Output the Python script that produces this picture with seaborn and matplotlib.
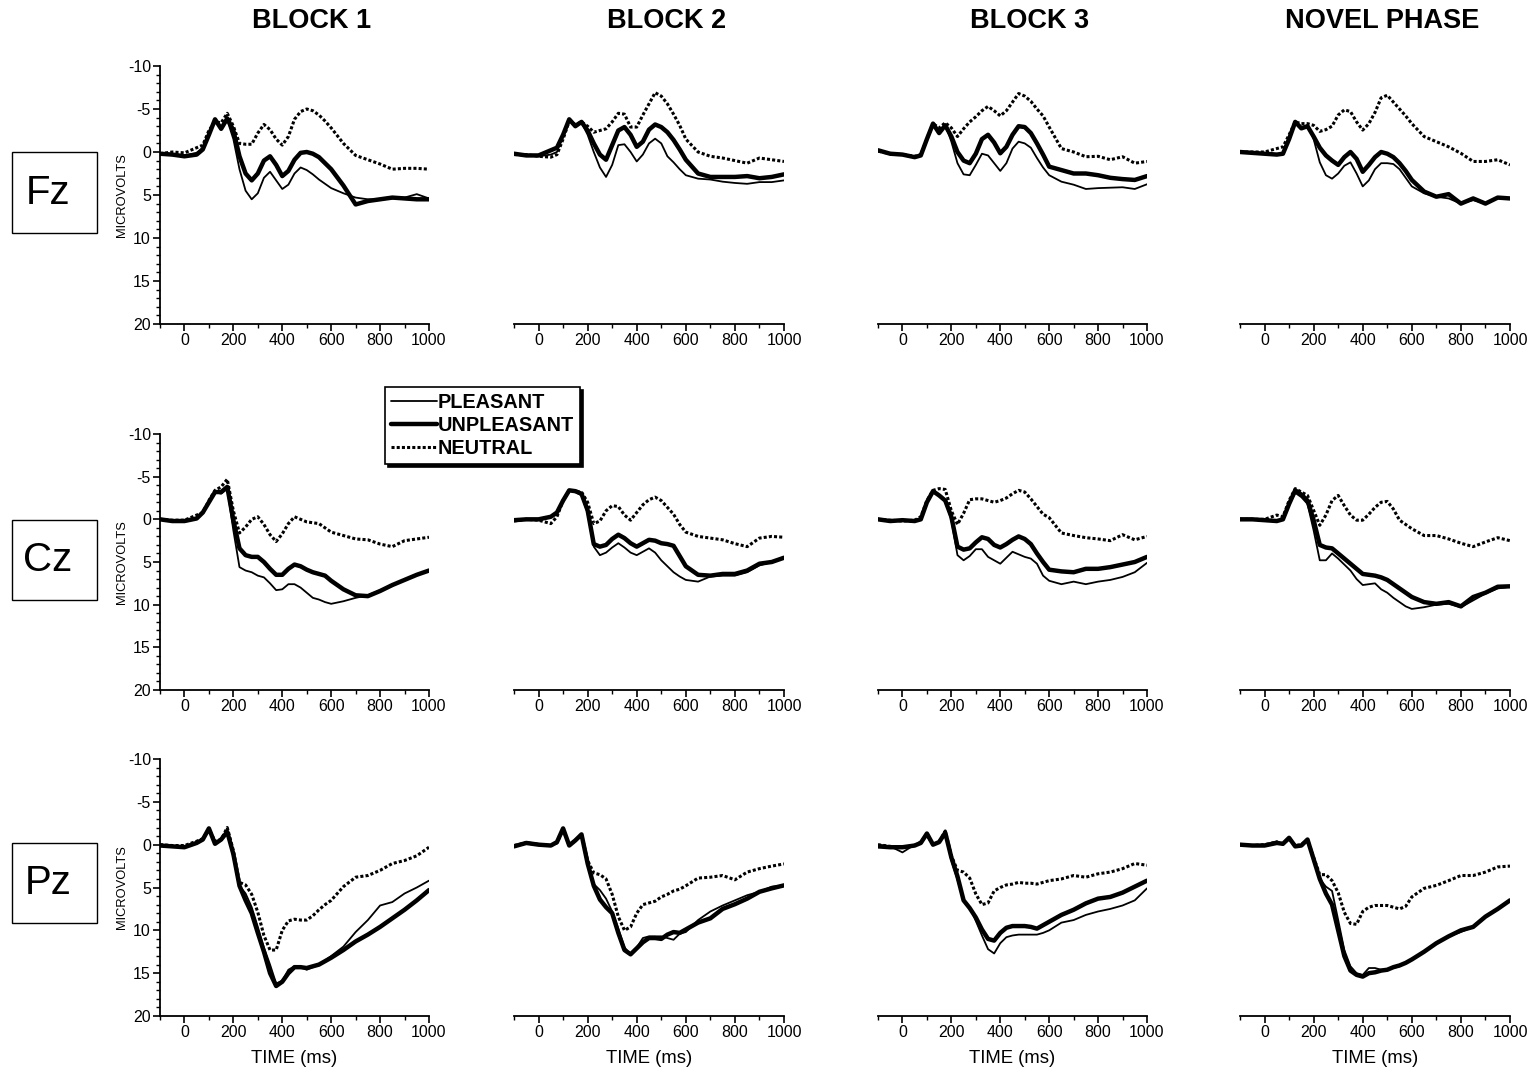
import matplotlib
matplotlib.use("Agg")
import matplotlib.pyplot as plt
from matplotlib.patches import Rectangle
from matplotlib.ticker import MultipleLocator
import seaborn as sns

sns.set_style("ticks")
plt.rcParams['font.family'] = ['Liberation Sans', 'DejaVu Sans']
plt.rcParams['axes.unicode_minus'] = False
plt.rcParams['text.color'] = 'black'
plt.rcParams['axes.labelcolor'] = 'black'
plt.rcParams['xtick.color'] = 'black'
plt.rcParams['ytick.color'] = 'black'
plt.rcParams['axes.edgecolor'] = 'black'

# time axis (ms) shared by all waveforms
time_ms = [-100, -50, 0, 50, 75, 100, 125, 150, 175, 200, 225, 250, 275, 300, 325, 350, 375,
           400, 425, 450, 475, 500, 525, 550, 575, 600, 650, 700, 750, 800, 850, 900, 950, 1000]

blocks = ["BLOCK 1", "BLOCK 2", "BLOCK 3", "NOVEL PHASE"]
sites = ["Fz", "Cz", "Pz"]
conditions = ["PLEASANT", "UNPLEASANT", "NEUTRAL"]

# ---- Fz ----
fz_b1_pleasant = [0.3, 0.3, 0.4, 0.1, -0.5, -2.3, -3.7, -2.6, -3.7, -1.5, 2.0, 4.5, 5.5, 4.8, 3.0, 2.3, 3.3,
                  4.3, 3.8, 2.5, 1.8, 2.1, 2.6, 3.2, 3.7, 4.2, 4.8, 5.3, 5.5, 5.5, 5.4, 5.3, 4.9, 5.4]
fz_b1_unpleasant = [0.2, 0.3, 0.5, 0.3, -0.3, -2.0, -3.8, -2.7, -3.9, -2.5, 0.5, 2.5, 3.3, 2.5, 1.0, 0.5, 1.5,
                    2.8, 2.2, 0.9, 0.1, 0.0, 0.2, 0.6, 1.3, 2.0, 3.9, 6.1, 5.7, 5.5, 5.3, 5.4, 5.5, 5.5]
fz_b1_neutral = [0.2, 0.0, 0.1, -0.5, -0.8, -2.5, -3.5, -3.4, -4.5, -3.0, -1.0, -0.9, -0.9, -2.2, -3.2, -2.6, -1.5,
                 -0.8, -1.8, -3.8, -4.7, -5.0, -4.8, -4.3, -3.6, -2.8, -1.0, 0.4, 0.9, 1.4, 2.0, 1.9, 1.9, 2.0]

fz_b2_pleasant = [0.2, 0.3, 0.5, 0.3, 0.0, -2.0, -3.8, -3.0, -3.4, -2.0, 0.0, 1.8, 2.9, 1.5, -0.8, -0.9, 0.0,
                  1.1, 0.3, -1.0, -1.55, -1.0, 0.5, 1.2, 2.0, 2.7, 3.1, 3.2, 3.45, 3.6, 3.7, 3.5, 3.5, 3.3]
fz_b2_unpleasant = [0.2, 0.4, 0.4, -0.2, -0.5, -2.0, -3.8, -3.0, -3.5, -2.5, -1.0, 0.3, 0.9, -0.8, -2.5, -2.9, -2.0,
                    -0.6, -1.2, -2.6, -3.2, -2.9, -2.3, -1.4, -0.3, 0.9, 2.5, 2.9, 2.9, 2.9, 2.8, 3.05, 2.9, 2.6]
fz_b2_neutral = [0.3, 0.3, 0.5, 0.6, 0.3, -1.5, -3.6, -3.2, -3.5, -3.0, -2.3, -2.5, -2.7, -3.5, -4.5, -4.4, -2.9,
                 -2.9, -4.3, -5.6, -6.9, -6.5, -5.6, -4.4, -3.1, -1.5, 0.0, 0.5, 0.7, 1.0, 1.3, 0.7, 0.9, 1.1]

fz_b3_pleasant = [-0.2, 0.15, 0.35, 0.6, 0.4, -1.5, -3.3, -2.4, -3.2, -1.2, 1.3, 2.6, 2.7, 1.5, 0.2, 0.4, 1.3,
                  2.2, 1.3, -0.4, -1.2, -1.0, -0.5, 0.7, 1.8, 2.7, 3.45, 3.8, 4.3, 4.2, 4.15, 4.1, 4.3, 3.75]
fz_b3_unpleasant = [-0.2, 0.2, 0.3, 0.6, 0.4, -1.5, -3.3, -2.2, -3.1, -1.8, 0.0, 1.0, 1.3, 0.2, -1.5, -2.0, -1.1,
                    0.15, -0.6, -2.0, -3.0, -2.9, -2.2, -1.0, 0.3, 1.7, 2.1, 2.5, 2.5, 2.7, 3.0, 3.15, 3.25, 2.8]
fz_b3_neutral = [-0.1, 0.2, 0.3, 0.5, 0.3, -1.5, -3.3, -2.8, -3.4, -2.8, -1.8, -2.7, -3.5, -4.1, -4.8, -5.3, -4.8,
                 -4.2, -4.8, -5.8, -6.8, -6.5, -5.9, -5.0, -4.2, -2.9, -0.4, 0.0, 0.55, 0.5, 0.9, 0.55, 1.3, 1.1]

fz_nov_pleasant = [0.0, 0.1, 0.2, 0.3, 0.1, -1.8, -3.5, -2.9, -3.1, -1.5, 1.2, 2.7, 3.1, 2.5, 1.6, 1.2, 2.5,
                   4.0, 3.3, 2.0, 1.3, 1.3, 1.4, 2.0, 3.0, 4.0, 4.8, 5.2, 5.4, 6.0, 5.6, 6.0, 5.4, 5.4]
fz_nov_unpleasant = [0.0, 0.1, 0.2, 0.3, 0.2, -1.5, -3.5, -2.75, -3.0, -1.8, -0.5, 0.4, 1.0, 1.5, 0.6, 0.0, 0.8,
                     2.3, 1.5, 0.6, 0.0, 0.2, 0.6, 1.3, 2.2, 3.25, 4.6, 5.2, 4.9, 6.0, 5.4, 6.0, 5.3, 5.4]
fz_nov_neutral = [0.0, 0.0, 0.0, -0.4, -0.6, -2.0, -3.5, -3.3, -3.3, -3.1, -2.4, -2.6, -3.0, -4.3, -4.9, -4.7, -3.5,
                  -2.55, -3.3, -4.6, -6.3, -6.6, -5.8, -5.0, -4.2, -3.3, -1.8, -1.2, -0.6, 0.15, 1.1, 1.1, 0.9, 1.5]

# ---- Cz ----
cz_b1_pleasant = [0.0, 0.2, 0.2, -0.2, -0.8, -2.0, -3.2, -3.0, -3.6, 1.3, 5.6, 6.0, 6.2, 6.6, 6.8, 7.5, 8.3,
                  8.2, 7.6, 7.6, 8.0, 8.6, 9.2, 9.4, 9.7, 9.9, 9.6, 9.2, 8.9, 8.3, 7.7, 7.1, 6.5, 6.0]
cz_b1_unpleasant = [0.0, 0.2, 0.2, -0.1, -0.8, -2.0, -3.2, -3.2, -3.8, 0.1, 3.4, 4.2, 4.4, 4.4, 5.0, 5.8, 6.5,
                    6.5, 5.8, 5.3, 5.5, 5.9, 6.2, 6.4, 6.6, 7.2, 8.2, 8.9, 9.0, 8.4, 7.7, 7.1, 6.5, 6.0]
cz_b1_neutral = [0.0, 0.1, 0.1, -0.5, -0.8, -2.2, -3.4, -3.8, -4.7, -1.0, 1.6, 0.9, 0.0, -0.3, 0.6, 1.8, 2.6,
                 1.7, 0.5, -0.3, 0.0, 0.3, 0.4, 0.5, 1.0, 1.5, 1.9, 2.3, 2.4, 2.9, 3.2, 2.5, 2.3, 2.1]

cz_b2_pleasant = [0.1, 0.0, 0.0, -0.3, -0.8, -2.2, -3.4, -3.2, -2.8, -0.7, 3.2, 4.2, 3.9, 3.3, 2.8, 3.3, 3.9,
                  4.2, 3.8, 3.4, 3.9, 4.8, 5.5, 6.2, 6.7, 7.1, 7.3, 6.7, 6.6, 6.6, 6.2, 5.4, 5.0, 4.4]
cz_b2_unpleasant = [0.1, 0.0, 0.0, -0.3, -0.8, -2.2, -3.4, -3.3, -3.0, -1.05, 2.9, 3.2, 3.0, 2.3, 1.8, 2.2, 2.8,
                    3.2, 2.8, 2.4, 2.5, 2.8, 2.9, 3.1, 4.3, 5.5, 6.5, 6.6, 6.4, 6.4, 6.0, 5.2, 5.0, 4.5]
cz_b2_neutral = [0.2, 0.0, 0.1, 0.5, -0.3, -2.2, -3.4, -3.3, -3.2, -2.0, 0.5, 0.2, -1.0, -1.6, -1.5, -0.5, 0.1,
                 -0.8, -1.7, -2.3, -2.6, -2.2, -1.4, -0.6, 0.6, 1.5, 2.0, 2.2, 2.4, 2.85, 3.2, 2.2, 2.0, 2.1]

cz_b3_pleasant = [0.0, 0.2, 0.1, 0.2, 0.0, -2.0, -3.2, -2.8, -2.2, 0.1, 4.2, 4.8, 4.3, 3.5, 3.5, 4.4, 4.8,
                  5.2, 4.5, 3.8, 4.1, 4.4, 4.6, 5.2, 6.6, 7.2, 7.6, 7.3, 7.6, 7.3, 7.1, 6.75, 6.2, 5.1]
cz_b3_unpleasant = [0.0, 0.2, 0.1, 0.2, 0.0, -2.0, -3.3, -2.8, -2.2, -0.3, 3.2, 3.55, 3.4, 2.7, 2.1, 2.3, 3.0,
                    3.3, 2.9, 2.4, 2.0, 2.3, 2.9, 4.0, 5.0, 5.9, 6.1, 6.2, 5.8, 5.8, 5.6, 5.3, 5.0, 4.4]
cz_b3_neutral = [0.0, 0.1, 0.2, 0.1, -0.3, -2.2, -3.4, -3.6, -3.5, -1.0, 0.6, -0.7, -2.3, -2.4, -2.4, -2.2, -2.0,
                 -2.2, -2.5, -3.0, -3.4, -3.2, -2.4, -1.5, -0.6, -0.2, 1.6, 1.9, 2.15, 2.3, 2.5, 1.8, 2.4, 2.0]

cz_nov_pleasant = [0.0, 0.0, 0.1, 0.2, 0.0, -1.8, -3.1, -2.6, -1.8, 1.3, 4.8, 4.8, 4.0, 4.6, 5.3, 6.0, 7.0,
                   7.7, 7.6, 7.5, 8.2, 8.6, 9.2, 9.7, 10.2, 10.5, 10.3, 10.0, 9.9, 10.3, 9.5, 8.7, 8.1, 7.9]
cz_nov_unpleasant = [0.0, 0.0, 0.1, 0.2, 0.0, -1.8, -3.4, -2.9, -2.2, 0.1, 3.0, 3.3, 3.4, 4.0, 4.6, 5.2, 5.8,
                     6.4, 6.5, 6.6, 6.8, 7.1, 7.6, 8.1, 8.6, 9.1, 9.7, 9.9, 9.7, 10.2, 9.1, 8.6, 7.9, 7.85]
cz_nov_neutral = [0.0, 0.0, 0.0, -0.5, -0.3, -2.2, -3.6, -3.2, -2.8, -1.05, 0.7, -0.5, -2.2, -2.8, -1.6, -0.5, 0.1,
                  0.1, -0.6, -1.4, -2.0, -2.1, -1.2, 0.1, 0.6, 1.1, 1.9, 1.9, 2.3, 2.8, 3.2, 2.65, 2.15, 2.5]

# ---- Pz ----
pz_b1_pleasant = [0.0, 0.2, 0.2, -0.3, -0.7, -1.8, -0.3, -0.5, -1.6, 1.5, 4.8, 5.7, 7.3, 9.6, 12.0, 14.0, 16.2,
                  15.9, 14.6, 14.2, 14.3, 14.6, 14.3, 14.0, 13.5, 13.0, 11.9, 10.2, 8.8, 7.1, 6.7, 5.7, 5.0, 4.2]
pz_b1_unpleasant = [0.1, 0.2, 0.3, -0.2, -0.6, -1.9, -0.1, -0.6, -1.5, 1.1, 4.8, 6.5, 8.0, 10.3, 12.5, 15.0, 16.5,
                    16.0, 15.0, 14.3, 14.3, 14.4, 14.2, 14.0, 13.6, 13.2, 12.3, 11.3, 10.5, 9.6, 8.6, 7.6, 6.5, 5.3]
pz_b1_neutral = [0.0, 0.1, 0.1, -0.4, -0.7, -1.8, -0.4, -0.6, -2.0, 0.7, 4.4, 4.7, 5.8, 7.9, 10.6, 12.3, 12.3,
                 10.0, 8.9, 8.7, 8.8, 8.8, 8.3, 7.6, 7.0, 6.5, 4.9, 3.8, 3.6, 3.0, 2.2, 1.85, 1.3, 0.3]

pz_b2_pleasant = [0.1, -0.3, -0.1, 0.1, -0.3, -1.8, 0.0, -0.6, -1.0, 1.85, 4.6, 5.3, 6.3, 7.8, 9.8, 12.0, 12.8,
                  12.0, 10.9, 10.7, 10.7, 10.7, 10.9, 11.1, 10.4, 10.2, 8.8, 7.8, 7.1, 6.5, 5.9, 5.5, 4.9, 4.75]
pz_b2_unpleasant = [0.2, -0.2, 0.0, 0.1, -0.3, -1.9, 0.1, -0.5, -1.2, 2.2, 4.8, 6.4, 7.3, 8.0, 10.3, 12.3, 12.8,
                    12.1, 11.4, 10.9, 10.9, 11.0, 10.5, 10.2, 10.3, 9.9, 9.1, 8.6, 7.5, 6.95, 6.3, 5.5, 5.1, 4.75]
pz_b2_neutral = [0.1, -0.2, 0.0, 0.1, -0.2, -1.8, 0.0, -0.5, -1.2, 1.85, 3.3, 3.5, 4.0, 5.8, 8.4, 10.0, 9.6,
                 8.0, 7.0, 6.8, 6.6, 6.1, 5.8, 5.4, 5.2, 4.8, 3.9, 3.8, 3.6, 4.1, 3.2, 2.8, 2.5, 2.25]

pz_b3_pleasant = [0.0, 0.2, 0.9, 0.0, -0.3, -1.0, 0.0, -0.3, -1.2, 1.85, 4.1, 6.5, 7.3, 8.9, 10.6, 12.2, 12.7,
                  11.5, 10.8, 10.6, 10.5, 10.5, 10.5, 10.5, 10.3, 10.0, 9.1, 8.8, 8.2, 7.8, 7.5, 7.1, 6.5, 5.1]
pz_b3_unpleasant = [0.2, 0.3, 0.3, 0.1, -0.2, -1.3, 0.0, -0.3, -1.4, 1.5, 3.7, 6.5, 7.4, 8.5, 9.9, 11.0, 11.2,
                    10.3, 9.7, 9.5, 9.5, 9.5, 9.6, 9.8, 9.4, 9.0, 8.2, 7.6, 6.85, 6.3, 6.1, 5.6, 4.9, 4.2]
pz_b3_neutral = [0.0, 0.2, 0.3, 0.1, -0.3, -1.2, 0.0, -0.3, -1.6, 1.3, 3.0, 3.2, 3.9, 5.75, 7.0, 6.8, 5.4,
                 5.0, 4.7, 4.6, 4.4, 4.5, 4.5, 4.6, 4.4, 4.2, 4.0, 3.6, 3.8, 3.4, 3.2, 2.8, 2.2, 2.4]

pz_nov_pleasant = [0.0, 0.1, 0.0, -0.4, 0.0, -0.65, 0.2, 0.0, -0.5, 1.5, 4.0, 4.9, 5.4, 8.8, 12.3, 14.2, 15.0,
                   15.2, 14.4, 14.4, 14.6, 14.5, 14.4, 14.2, 13.8, 13.4, 12.5, 11.5, 10.7, 10.2, 9.6, 8.4, 7.5, 6.5]
pz_nov_unpleasant = [0.0, 0.1, 0.1, -0.2, -0.1, -0.8, 0.2, 0.1, -0.6, 1.7, 4.0, 5.7, 7.0, 10.0, 13.0, 14.7, 15.2,
                     15.4, 15.0, 14.9, 14.7, 14.6, 14.3, 14.1, 13.8, 13.4, 12.5, 11.5, 10.7, 10.0, 9.6, 8.4, 7.5, 6.5]
pz_nov_neutral = [0.0, 0.1, 0.0, -0.3, -0.1, -0.7, 0.1, 0.0, -0.6, 1.5, 3.5, 3.5, 4.2, 5.6, 7.9, 9.2, 9.3,
                  7.8, 7.3, 7.1, 7.1, 7.1, 7.3, 7.5, 7.2, 6.1, 5.1, 4.75, 4.2, 3.6, 3.6, 3.2, 2.6, 2.5]

waves = {
    "Fz": [[fz_b1_pleasant, fz_b1_unpleasant, fz_b1_neutral],
           [fz_b2_pleasant, fz_b2_unpleasant, fz_b2_neutral],
           [fz_b3_pleasant, fz_b3_unpleasant, fz_b3_neutral],
           [fz_nov_pleasant, fz_nov_unpleasant, fz_nov_neutral]],
    "Cz": [[cz_b1_pleasant, cz_b1_unpleasant, cz_b1_neutral],
           [cz_b2_pleasant, cz_b2_unpleasant, cz_b2_neutral],
           [cz_b3_pleasant, cz_b3_unpleasant, cz_b3_neutral],
           [cz_nov_pleasant, cz_nov_unpleasant, cz_nov_neutral]],
    "Pz": [[pz_b1_pleasant, pz_b1_unpleasant, pz_b1_neutral],
           [pz_b2_pleasant, pz_b2_unpleasant, pz_b2_neutral],
           [pz_b3_pleasant, pz_b3_unpleasant, pz_b3_neutral],
           [pz_nov_pleasant, pz_nov_unpleasant, pz_nov_neutral]],
}

styles = {
    "PLEASANT": dict(lw=1.3, ls="-"),
    "UNPLEASANT": dict(lw=3.2, ls="-"),
    "NEUTRAL": dict(lw=2.2, ls=(0, (1.0, 0.7))),
}

W, H = 1532, 1070
fig = plt.figure(figsize=(W / 100, H / 100), dpi=100)

col_px = [(160, 429), (514, 784), (878, 1147), (1240, 1510)]
row_px = [(66, 324), (434, 690), (759, 1016)]
box_px = [(152, 233), (520, 600), (843, 923)]
title_x = [312, 667, 1030, 1382]

legend_handles = None
for r, site in enumerate(sites):
    top, bot = row_px[r]
    for c, block in enumerate(blocks):
        left, right = col_px[c]
        ax = fig.add_axes([left / W, 1 - bot / H, (right - left) / W, (bot - top) / H])
        for k, cond in enumerate(conditions):
            st = styles[cond]
            sns.lineplot(x=time_ms, y=waves[site][c][k], ax=ax, color="black",
                         linewidth=st["lw"], linestyle=st["ls"], label=cond,
                         legend=False)
        ax.set_xlim(-100, 1000)
        ax.set_ylim(20, -10)
        ax.xaxis.set_major_locator(MultipleLocator(200))
        ax.xaxis.set_minor_locator(MultipleLocator(100))
        ax.yaxis.set_major_locator(MultipleLocator(5))
        ax.yaxis.set_minor_locator(MultipleLocator(1))
        ax.tick_params(axis="both", which="major", length=5, width=1.2, labelsize=11.5,
                       direction="out", pad=1.5)
        ax.tick_params(axis="both", which="minor", length=3, width=1.0, direction="out")
        ax.spines["top"].set_visible(False)
        ax.spines["right"].set_visible(False)
        ax.spines["bottom"].set_linewidth(1.3)
        ax.spines["left"].set_linewidth(1.3)
        ax.set_xlabel("")
        ax.set_ylabel("")
        if c == 0:
            ax.set_ylabel("MICROVOLTS", fontsize=9.3, labelpad=0)
        else:
            ax.spines["left"].set_visible(False)
            ax.tick_params(axis="y", which="both", left=False, labelleft=False)
        if r == 2:
            ax.set_xlabel("TIME (ms)", fontsize=13.3, labelpad=7)
        if r == 0:
            fig.text(title_x[c] / W, 1 - 21 / H, block, ha="center", va="center",
                     fontsize=19.5, fontweight="bold")
        if legend_handles is None:
            legend_handles = ax.get_lines()[:3]

    # site label box
    y0, y1 = box_px[r]
    fig.patches.append(Rectangle((12 / W, 1 - y1 / H), 85 / W, (y1 - y0) / H, transform=fig.transFigure,
                                 fill=False, edgecolor="black", linewidth=1.0))
    fig.text(48 / W, 1 - (y0 + y1) / 2 / H, site, ha="center", va="center", fontsize=29)

leg = fig.legend(legend_handles, conditions, loc="upper left", bbox_to_anchor=(385 / W, 1 - 387 / H),
                 frameon=True, fancybox=False, shadow={"color": "black", "alpha": 1},
                 edgecolor="black", framealpha=1,
                 handlelength=2.3, handletextpad=0.05, borderpad=0.3, labelspacing=0.2,
                 borderaxespad=0, prop={"weight": "bold", "size": 14.3})
leg.get_frame().set_linewidth(1.2)

fig.savefig("out.png", dpi=100)
plt.close(fig)
